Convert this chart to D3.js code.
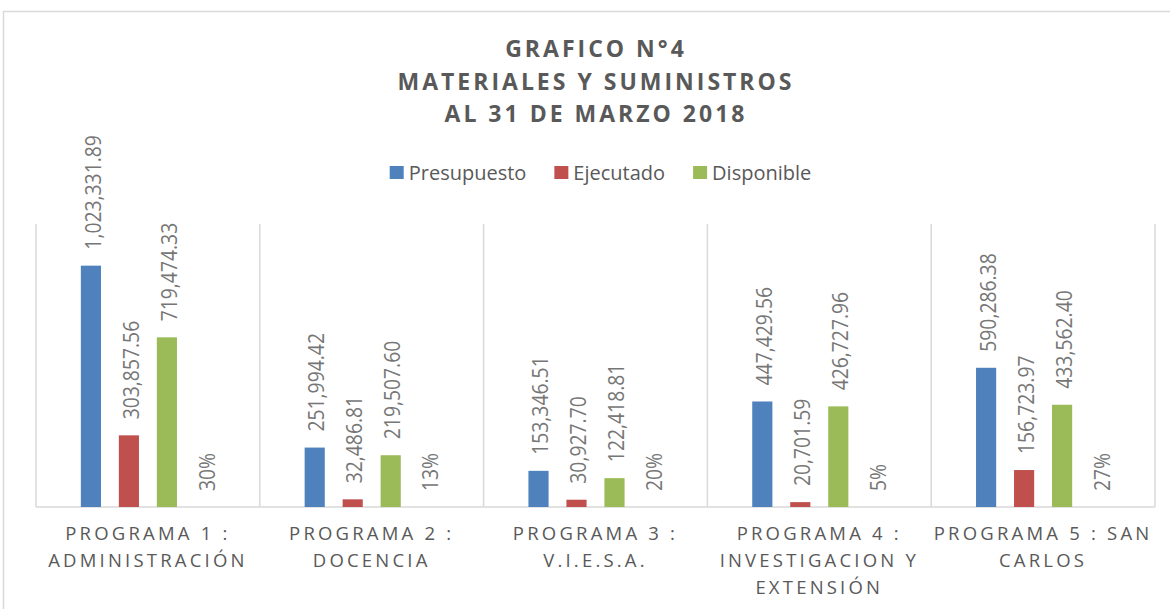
<!DOCTYPE html>
<html>
<head>
<meta charset="utf-8">
<script src="https://cdn.jsdelivr.net/npm/d3@7"></script>
<style>
  body { margin: 0; background: #fff; }
  text { font-family: "Open Sans", sans-serif; }
</style>
</head>
<body>
<div id="chart"></div>
<script>
// Data
const categories = [
  "PROGRAMA 1 :\nADMINISTRACIÓN",
  "PROGRAMA 2 :\nDOCENCIA",
  "PROGRAMA 3 :\nV.I.E.S.A.",
  "PROGRAMA 4 :\nINVESTIGACION Y\nEXTENSIÓN",
  "PROGRAMA 5 : SAN\nCARLOS"
];
const presupuesto = [1023331.89, 251994.42, 153346.51, 447429.56, 590286.38];
const ejecutado = [303857.56, 32486.81, 30927.70, 20701.59, 156723.97];
const disponible = [719474.33, 219507.60, 122418.81, 426727.96, 433562.40];
const porcentaje = [0.30, 0.13, 0.20, 0.05, 0.27];
const seriesNames = ["Presupuesto", "Ejecutado", "Disponible", "%"];
const legendNames = ["Presupuesto", "Ejecutado", "Disponible"];
const colors = ["#4F81BD", "#C0504D", "#9BBB59", "#F79646"];
const titleLines = ["GRAFICO N°4", "MATERIALES Y SUMINISTROS", "AL 31 DE MARZO 2018"];

const width = 1170;
const height = 609;
const svg = d3.select("#chart")
  .append("svg")
  .attr("width", width)
  .attr("height", height);

// Chart border
svg.append("rect")
  .attr("x", 3.5)
  .attr("y", 11.5)
  .attr("width", 1200)
  .attr("height", 700)
  .attr("fill", "none")
  .attr("stroke", "#D9D9D9")
  .attr("stroke-width", 1.5);

// Scales
const x0 = d3.scaleBand()
  .domain(categories)
  .range([36, 1155]);
const x1 = d3.scaleBand()
  .domain(seriesNames)
  .range([0, x0.bandwidth()])
  .paddingInner(0.47)
  .paddingOuter(1.18);
const y = d3.scaleLinear()
  .domain([0, 1200000])
  .range([507, 224]);

// Vertical gridlines between categories
const bounds = categories.map(c => x0(c)).concat([x0.range()[1]]);
svg.append("g")
  .selectAll("line")
  .data(bounds)
  .enter().append("line")
  .attr("x1", d => d)
  .attr("x2", d => d)
  .attr("y1", y.range()[1])
  .attr("y2", y.range()[0])
  .attr("stroke", "#D9D9D9")
  .attr("stroke-width", 1.5);

// Baseline
svg.append("line")
  .attr("x1", x0.range()[0])
  .attr("x2", x0.range()[1])
  .attr("y1", y(0))
  .attr("y2", y(0))
  .attr("stroke", "#D9D9D9")
  .attr("stroke-width", 1.5);

// Build rows
const rows = categories.map((c, i) => ({
  cat: c,
  values: [presupuesto[i], ejecutado[i], disponible[i], porcentaje[i]]
}));

const fmtNum = d3.format(",.2f");
const fmtPct = d3.format(".0%");

const groups = svg.append("g")
  .selectAll("g")
  .data(rows)
  .enter().append("g")
  .attr("transform", d => `translate(${x0(d.cat)},0)`);

// Bars
groups.selectAll("rect")
  .data(d => d.values.map((v, k) => ({ key: seriesNames[k], v: v, k: k })))
  .enter().append("rect")
  .attr("x", d => x1(d.key))
  .attr("y", d => y(d.v))
  .attr("width", x1.bandwidth())
  .attr("height", d => y(0) - y(d.v))
  .attr("fill", d => colors[d.k]);

// Data labels (rotated)
groups.selectAll("text")
  .data(d => d.values.map((v, k) => ({ key: seriesNames[k], v: v, k: k })))
  .enter().append("text")
  .attr("transform", d => `translate(${x1(d.key) + x1.bandwidth() / 2},${y(d.v) - 16}) rotate(-90) scale(0.9,1)`)
  .attr("dy", "0.45em")
  .attr("text-anchor", "start")
  .attr("fill", "#767676")
  .style("font-size", "21.5px")
  .text(d => d.k === 3 ? fmtPct(d.v) : fmtNum(d.v));

// Category labels
const catText = svg.append("g")
  .selectAll("text")
  .data(categories)
  .enter().append("text")
  .attr("y", 540)
  .attr("text-anchor", "middle")
  .attr("fill", "#595959")
  .style("font-size", "18.5px")
  .style("letter-spacing", "3.2px");
catText.each(function(d) {
  const t = d3.select(this);
  d.split("\n").forEach((line, i) => {
    t.append("tspan")
      .attr("x", x0(d) + x0.bandwidth() / 2)
      .attr("dy", i === 0 ? 0 : 27)
      .text(line);
  });
});

// Title
svg.append("g")
  .selectAll("text")
  .data(titleLines)
  .enter().append("text")
  .attr("x", 596)
  .attr("y", (d, i) => 57 + i * 32.5)
  .attr("text-anchor", "middle")
  .attr("fill", "#595959")
  .style("font-size", "23px")
  .style("font-weight", "bold")
  .style("letter-spacing", "3px")
  .text(d => d);

// Legend
const legend = svg.append("g");
let lx = 0;
legendNames.forEach((name, i) => {
  legend.append("rect")
    .attr("x", lx)
    .attr("y", 166)
    .attr("width", 14)
    .attr("height", 13)
    .attr("fill", colors[i]);
  const t = legend.append("text")
    .attr("x", lx + 19)
    .attr("y", 179.5)
    .attr("fill", "#595959")
    .style("font-size", "20px")
    .text(name);
  lx += 19 + t.node().getComputedTextLength() + 28;
});
lx -= 28;
legend.attr("transform", `translate(${600.5 - lx / 2},0)`);
</script>
</body>
</html>
